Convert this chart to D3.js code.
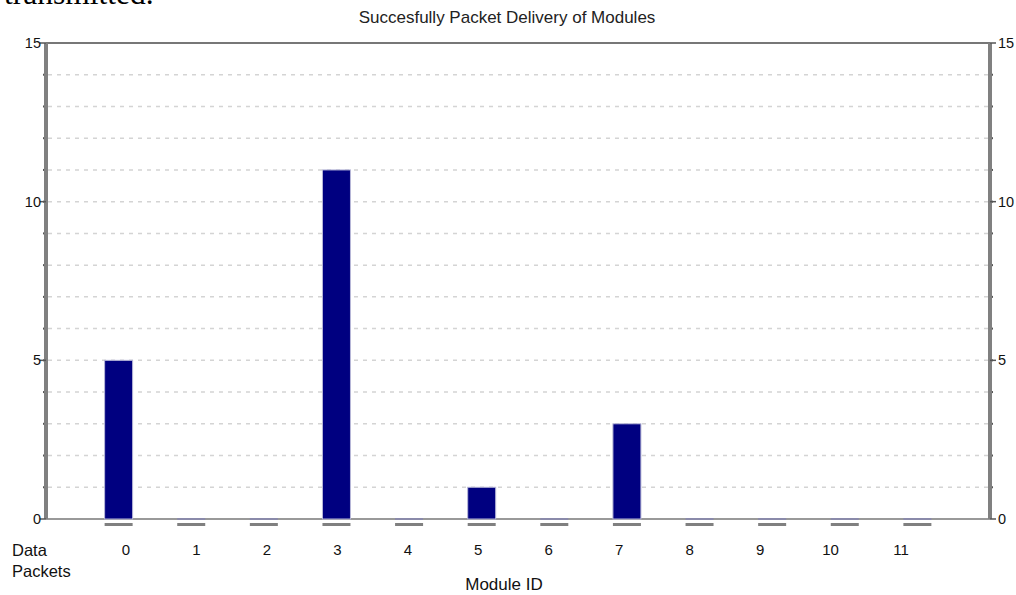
<!DOCTYPE html>
<html><head><meta charset="utf-8">
<script src="https://cdn.jsdelivr.net/npm/d3@7"></script>
<style>body{margin:0;background:#fff;}svg{display:block;font-family:"Liberation Sans",Arial,sans-serif;}</style>
</head><body>
<script>
const categories = ["0","1","2","3","4","5","6","7","8","9","10","11"];
const values = [5,0,0,11,0,1,0,3,0,0,0,0];
const yTicks = [0,5,10,15];
const title = "Succesfully Packet Delivery of Modules";
const xTitle = "Module ID";
const rowLabel = ["Data","Packets"];

const W=1016,H=595;
const svg=d3.select("body").append("svg").attr("width",W).attr("height",H);
const L=46,R=990,T=43,B=519;
const x=d3.scaleLinear().domain([-1,categories.length]).range([L,R]);
const xl=d3.scaleLinear().domain([0,categories.length-1]).range([126,901]);
const y=d3.scaleLinear().domain([0,15]).range([B,T]);
const bw=28;

// cut-off page text
svg.append("text").attr("x",4).attr("y",4).attr("font-family","Liberation Serif, serif").attr("font-size",31.5).attr("fill","#000").text("transmitted.");

// title
svg.append("text").attr("x",507).attr("y",23).attr("text-anchor","middle").attr("font-size",17).attr("fill","#222").text(title);

// grid
const grid=d3.range(1,15);
svg.append("g").selectAll("line").data(grid).join("line")
 .attr("x1",L+2).attr("x2",R-2).attr("y1",d=>y(d)).attr("y2",d=>y(d))
 .attr("stroke","#d4d4d4").attr("stroke-width",1.5).attr("stroke-dasharray","4,5");

// minor tick dots
svg.append("g").selectAll("rect").data(grid).join("rect")
 .attr("x",L-3).attr("y",d=>y(d)-1).attr("width",2).attr("height",2).attr("fill","#555");
svg.append("g").selectAll("rect").data(grid).join("rect")
 .attr("x",R+1).attr("y",d=>y(d)-1).attr("width",2).attr("height",2).attr("fill","#555");

// top border
svg.append("line").attr("x1",L).attr("x2",R).attr("y1",T).attr("y2",T).attr("stroke","#777").attr("stroke-width",2);
// baseline
svg.append("line").attr("x1",L).attr("x2",R).attr("y1",B).attr("y2",B).attr("stroke","#999").attr("stroke-width",2);

// bars
svg.append("g").selectAll("rect").data(values).join("rect")
 .attr("x",(d,i)=>x(i)-bw/2).attr("y",d=>y(d)-(d>0?0:1)).attr("width",bw)
 .attr("height",d=>Math.max(2,y(0)-y(d)))
 .attr("fill",d=>d>0?"#000080":"#8a8aaa").attr("stroke",d=>d>0?"#b8b8d8":"none").attr("stroke-width",1);

// dashes under bars
svg.append("g").selectAll("rect").data(values).join("rect")
 .attr("x",(d,i)=>x(i)-bw/2).attr("y",B+4).attr("width",bw).attr("height",3).attr("fill","#808080");

// side axes
svg.append("rect").attr("x",L-2).attr("y",T).attr("width",4).attr("height",B-T).attr("fill","#808080");
svg.append("rect").attr("x",R-2).attr("y",T).attr("width",4).attr("height",B-T).attr("fill","#808080");

// major ticks
svg.append("g").selectAll("line").data(yTicks).join("line")
 .attr("x1",L-6).attr("x2",L).attr("y1",d=>y(d)).attr("y2",d=>y(d)).attr("stroke","#555").attr("stroke-width",1.5);
svg.append("g").selectAll("line").data(yTicks).join("line")
 .attr("x1",R).attr("x2",R+6).attr("y1",d=>y(d)).attr("y2",d=>y(d)).attr("stroke","#555").attr("stroke-width",1.5);

svg.append("g").selectAll("text").data(yTicks).join("text")
 .attr("x",L-5).attr("y",d=>y(d)+5).attr("text-anchor","end").attr("font-size",14.5).attr("fill","#111").text(d=>d);
svg.append("g").selectAll("text").data(yTicks).join("text")
 .attr("x",R+8).attr("y",d=>y(d)+5).attr("text-anchor","start").attr("font-size",14.5).attr("fill","#111").text(d=>d);

// category labels
svg.append("g").selectAll("text").data(categories).join("text")
 .attr("x",(d,i)=>xl(i)).attr("y",555).attr("text-anchor","middle").attr("font-size",15).attr("fill","#111").text(d=>d);

svg.append("g").selectAll("text").data(rowLabel).join("text")
 .attr("x",12).attr("y",(d,i)=>556+i*21).attr("font-size",16.5).attr("fill","#111").text(d=>d);

svg.append("text").attr("x",504).attr("y",590).attr("text-anchor","middle").attr("font-size",17).attr("fill","#111").text(xTitle);
</script>
</body></html>
